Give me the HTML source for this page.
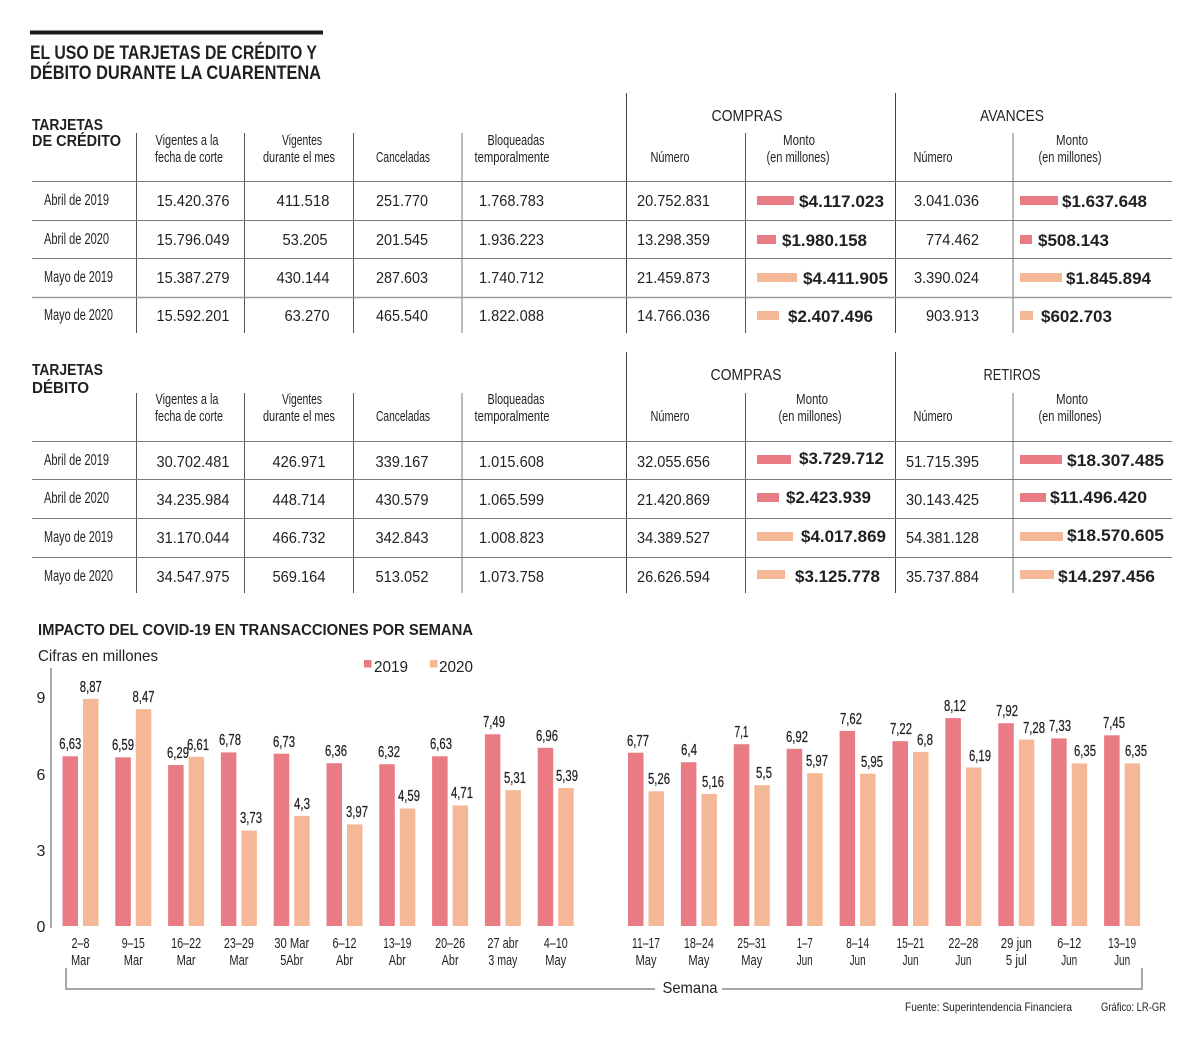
<!DOCTYPE html>
<html><head><meta charset="utf-8"><style>
html,body{margin:0;padding:0;background:#fff;}
svg{display:block;}
text{fill:#231f20;font-family:"Liberation Sans",sans-serif;}
.c{font-family:"Liberation Sans Narrow","Liberation Sans",sans-serif;}
.h{font-size:15px;}
.r{font-size:15.5px;}
.n{font-size:16px;}
.b{font-size:16.5px;font-weight:bold;}
.v{font-size:16px;stroke:#231f20;stroke-width:0.25;}
.x{font-size:15px;}
.m{text-anchor:middle;}
.e{text-anchor:end;}
.p{fill:#e97b84;}
.o{fill:#f5b896;}
</style></head><body>
<svg width="1200" height="1043" viewBox="0 0 1200 1043" xmlns="http://www.w3.org/2000/svg">
<rect width="1200" height="1043" fill="#fff"/>
<!-- Title -->
<rect x="30" y="30.5" width="293" height="4" fill="#1a1a1a"/>
<text x="30" y="59" font-size="19" font-weight="bold" textLength="287" lengthAdjust="spacingAndGlyphs">EL USO DE TARJETAS DE CRÉDITO Y</text>
<text x="30" y="79" font-size="19" font-weight="bold" textLength="291" lengthAdjust="spacingAndGlyphs">DÉBITO DURANTE LA CUARENTENA</text>

<!-- ===== CREDIT TABLE ===== -->
<g stroke="#555" stroke-width="1" fill="none">
<line x1="136.5" y1="133" x2="136.5" y2="333"/>
<line x1="244.5" y1="133" x2="244.5" y2="333"/>
<line x1="353.5" y1="133" x2="353.5" y2="333"/>
<line x1="745.5" y1="133" x2="745.5" y2="333"/>
<line x1="626.5" y1="93" x2="626.5" y2="333" stroke="#444"/>
<line x1="895.5" y1="93" x2="895.5" y2="333" stroke="#444"/>
</g>
<g stroke="#bbb" stroke-width="2">
<line x1="462" y1="133" x2="462" y2="333"/>
<line x1="1013" y1="133" x2="1013" y2="333"/>
</g>
<g stroke="#7a7a7a" stroke-width="1">
<line x1="32" y1="181.5" x2="1172" y2="181.5"/>
<line x1="32" y1="220.5" x2="1172" y2="220.5"/>
<line x1="32" y1="258.5" x2="1172" y2="258.5"/>
<line x1="32" y1="297.5" x2="1172" y2="297.5" stroke="#999" stroke-width="1.5"/>
</g>
<text x="32" y="130" font-size="16" font-weight="bold" textLength="71" lengthAdjust="spacingAndGlyphs">TARJETAS</text>
<text x="32" y="146" font-size="16" font-weight="bold" textLength="89" lengthAdjust="spacingAndGlyphs">DE CRÉDITO</text>
<g class="c h">
<text class="m" x="187" y="145" textLength="63" lengthAdjust="spacingAndGlyphs">Vigentes a la</text>
<text class="m" x="189" y="162" textLength="68" lengthAdjust="spacingAndGlyphs">fecha de corte</text>
<text class="m" x="302" y="145" textLength="40" lengthAdjust="spacingAndGlyphs">Vigentes</text>
<text class="m" x="299" y="162" textLength="72" lengthAdjust="spacingAndGlyphs">durante el mes</text>
<text class="m" x="403" y="162" textLength="54" lengthAdjust="spacingAndGlyphs">Canceladas</text>
<text class="m" x="516" y="145" textLength="57" lengthAdjust="spacingAndGlyphs">Bloqueadas</text>
<text class="m" x="512" y="162" textLength="75" lengthAdjust="spacingAndGlyphs">temporalmente</text>
<text class="m" x="670" y="162" textLength="39" lengthAdjust="spacingAndGlyphs">Número</text>
<text class="m" x="799" y="145" textLength="32" lengthAdjust="spacingAndGlyphs">Monto</text>
<text class="m" x="798" y="162" textLength="63" lengthAdjust="spacingAndGlyphs">(en millones)</text>
<text class="m" x="933" y="162" textLength="39" lengthAdjust="spacingAndGlyphs">Número</text>
<text class="m" x="1072" y="145" textLength="32" lengthAdjust="spacingAndGlyphs">Monto</text>
<text class="m" x="1070" y="162" textLength="63" lengthAdjust="spacingAndGlyphs">(en millones)</text>
</g>
<text class="m" x="747" y="121" font-size="16" textLength="71" lengthAdjust="spacingAndGlyphs">COMPRAS</text>
<text class="m" x="1012" y="121" font-size="16" textLength="64" lengthAdjust="spacingAndGlyphs">AVANCES</text>

<!-- credit rows -->
<g class="c r">
<text x="44" y="205" textLength="65" lengthAdjust="spacingAndGlyphs">Abril de 2019</text>
<text x="44" y="244" textLength="65" lengthAdjust="spacingAndGlyphs">Abril de 2020</text>
<text x="44" y="282" textLength="69" lengthAdjust="spacingAndGlyphs">Mayo de 2019</text>
<text x="44" y="320" textLength="69" lengthAdjust="spacingAndGlyphs">Mayo de 2020</text>
</g>
<g class="n">
<text class="m" x="193" y="206" textLength="73" lengthAdjust="spacingAndGlyphs">15.420.376</text>
<text class="m" x="193" y="245" textLength="73" lengthAdjust="spacingAndGlyphs">15.796.049</text>
<text class="m" x="193" y="283" textLength="73" lengthAdjust="spacingAndGlyphs">15.387.279</text>
<text class="m" x="193" y="321" textLength="73" lengthAdjust="spacingAndGlyphs">15.592.201</text>
<text class="m" x="303" y="206" textLength="53" lengthAdjust="spacingAndGlyphs">411.518</text>
<text class="m" x="305" y="245" textLength="45" lengthAdjust="spacingAndGlyphs">53.205</text>
<text class="m" x="303" y="283" textLength="53" lengthAdjust="spacingAndGlyphs">430.144</text>
<text class="m" x="307" y="321" textLength="45" lengthAdjust="spacingAndGlyphs">63.270</text>
<text class="m" x="402" y="206" textLength="52" lengthAdjust="spacingAndGlyphs">251.770</text>
<text class="m" x="402" y="245" textLength="52" lengthAdjust="spacingAndGlyphs">201.545</text>
<text class="m" x="402" y="283" textLength="52" lengthAdjust="spacingAndGlyphs">287.603</text>
<text class="m" x="402" y="321" textLength="52" lengthAdjust="spacingAndGlyphs">465.540</text>
<text x="479" y="206" textLength="65" lengthAdjust="spacingAndGlyphs">1.768.783</text>
<text x="479" y="245" textLength="65" lengthAdjust="spacingAndGlyphs">1.936.223</text>
<text x="479" y="283" textLength="65" lengthAdjust="spacingAndGlyphs">1.740.712</text>
<text x="479" y="321" textLength="65" lengthAdjust="spacingAndGlyphs">1.822.088</text>
<text x="637" y="206" textLength="73" lengthAdjust="spacingAndGlyphs">20.752.831</text>
<text x="637" y="245" textLength="73" lengthAdjust="spacingAndGlyphs">13.298.359</text>
<text x="637" y="283" textLength="73" lengthAdjust="spacingAndGlyphs">21.459.873</text>
<text x="637" y="321" textLength="73" lengthAdjust="spacingAndGlyphs">14.766.036</text>
<text class="e" x="979" y="206" textLength="65" lengthAdjust="spacingAndGlyphs">3.041.036</text>
<text class="e" x="979" y="245" textLength="53" lengthAdjust="spacingAndGlyphs">774.462</text>
<text class="e" x="979" y="283" textLength="65" lengthAdjust="spacingAndGlyphs">3.390.024</text>
<text class="e" x="979" y="321" textLength="53" lengthAdjust="spacingAndGlyphs">903.913</text>
</g>
<rect class="p" x="757" y="196" width="37" height="9"/>
<rect class="p" x="757" y="235" width="19" height="9"/>
<rect class="o" x="757" y="273" width="40" height="9"/>
<rect class="o" x="757" y="311" width="22" height="9"/>
<rect class="p" x="1020" y="196" width="38" height="9"/>
<rect class="p" x="1020" y="235" width="12" height="9"/>
<rect class="o" x="1020" y="273" width="42" height="9"/>
<rect class="o" x="1020" y="311" width="13" height="9"/>
<g class="b">
<text x="799" y="207" textLength="85" lengthAdjust="spacingAndGlyphs">$4.117.023</text>
<text x="782" y="246" textLength="85" lengthAdjust="spacingAndGlyphs">$1.980.158</text>
<text x="803" y="284" textLength="85" lengthAdjust="spacingAndGlyphs">$4.411.905</text>
<text x="788" y="322" textLength="85" lengthAdjust="spacingAndGlyphs">$2.407.496</text>
<text x="1062" y="207" textLength="85" lengthAdjust="spacingAndGlyphs">$1.637.648</text>
<text x="1038" y="246" textLength="71" lengthAdjust="spacingAndGlyphs">$508.143</text>
<text x="1066" y="284" textLength="85" lengthAdjust="spacingAndGlyphs">$1.845.894</text>
<text x="1041" y="322" textLength="71" lengthAdjust="spacingAndGlyphs">$602.703</text>
</g>

<!-- ===== DEBIT TABLE ===== -->
<g stroke="#555" stroke-width="1" fill="none">
<line x1="136.5" y1="393" x2="136.5" y2="593"/>
<line x1="244.5" y1="393" x2="244.5" y2="593"/>
<line x1="353.5" y1="393" x2="353.5" y2="593"/>
<line x1="745.5" y1="393" x2="745.5" y2="593"/>
<line x1="626.5" y1="352" x2="626.5" y2="593" stroke="#444"/>
<line x1="895.5" y1="352" x2="895.5" y2="593" stroke="#444"/>
</g>
<g stroke="#bbb" stroke-width="2">
<line x1="462" y1="393" x2="462" y2="593"/>
<line x1="1013" y1="393" x2="1013" y2="593"/>
</g>
<g stroke="#7a7a7a" stroke-width="1">
<line x1="32" y1="441.5" x2="1172" y2="441.5"/>
<line x1="32" y1="479.5" x2="1172" y2="479.5"/>
<line x1="32" y1="518.5" x2="1172" y2="518.5"/>
<line x1="32" y1="557.5" x2="1172" y2="557.5"/>
</g>
<text x="32" y="375" font-size="16" font-weight="bold" textLength="71" lengthAdjust="spacingAndGlyphs">TARJETAS</text>
<text x="32" y="393" font-size="16" font-weight="bold" textLength="57" lengthAdjust="spacingAndGlyphs">DÉBITO</text>
<g class="c h">
<text class="m" x="187" y="404" textLength="63" lengthAdjust="spacingAndGlyphs">Vigentes a la</text>
<text class="m" x="189" y="421" textLength="68" lengthAdjust="spacingAndGlyphs">fecha de corte</text>
<text class="m" x="302" y="404" textLength="40" lengthAdjust="spacingAndGlyphs">Vigentes</text>
<text class="m" x="299" y="421" textLength="72" lengthAdjust="spacingAndGlyphs">durante el mes</text>
<text class="m" x="403" y="421" textLength="54" lengthAdjust="spacingAndGlyphs">Canceladas</text>
<text class="m" x="516" y="404" textLength="57" lengthAdjust="spacingAndGlyphs">Bloqueadas</text>
<text class="m" x="512" y="421" textLength="75" lengthAdjust="spacingAndGlyphs">temporalmente</text>
<text class="m" x="670" y="421" textLength="39" lengthAdjust="spacingAndGlyphs">Número</text>
<text class="m" x="812" y="404" textLength="32" lengthAdjust="spacingAndGlyphs">Monto</text>
<text class="m" x="810" y="421" textLength="63" lengthAdjust="spacingAndGlyphs">(en millones)</text>
<text class="m" x="933" y="421" textLength="39" lengthAdjust="spacingAndGlyphs">Número</text>
<text class="m" x="1072" y="404" textLength="32" lengthAdjust="spacingAndGlyphs">Monto</text>
<text class="m" x="1070" y="421" textLength="63" lengthAdjust="spacingAndGlyphs">(en millones)</text>
</g>
<text class="m" x="746" y="380" font-size="16" textLength="71" lengthAdjust="spacingAndGlyphs">COMPRAS</text>
<text class="m" x="1012" y="380" font-size="16" textLength="57" lengthAdjust="spacingAndGlyphs">RETIROS</text>

<g class="c r">
<text x="44" y="465" textLength="65" lengthAdjust="spacingAndGlyphs">Abril de 2019</text>
<text x="44" y="503" textLength="65" lengthAdjust="spacingAndGlyphs">Abril de 2020</text>
<text x="44" y="542" textLength="69" lengthAdjust="spacingAndGlyphs">Mayo de 2019</text>
<text x="44" y="581" textLength="69" lengthAdjust="spacingAndGlyphs">Mayo de 2020</text>
</g>
<g class="n">
<text class="m" x="193" y="467" textLength="73" lengthAdjust="spacingAndGlyphs">30.702.481</text>
<text class="m" x="193" y="505" textLength="73" lengthAdjust="spacingAndGlyphs">34.235.984</text>
<text class="m" x="193" y="543" textLength="73" lengthAdjust="spacingAndGlyphs">31.170.044</text>
<text class="m" x="193" y="582" textLength="73" lengthAdjust="spacingAndGlyphs">34.547.975</text>
<text class="m" x="299" y="467" textLength="53" lengthAdjust="spacingAndGlyphs">426.971</text>
<text class="m" x="299" y="505" textLength="53" lengthAdjust="spacingAndGlyphs">448.714</text>
<text class="m" x="299" y="543" textLength="53" lengthAdjust="spacingAndGlyphs">466.732</text>
<text class="m" x="299" y="582" textLength="53" lengthAdjust="spacingAndGlyphs">569.164</text>
<text class="m" x="402" y="467" textLength="53" lengthAdjust="spacingAndGlyphs">339.167</text>
<text class="m" x="402" y="505" textLength="53" lengthAdjust="spacingAndGlyphs">430.579</text>
<text class="m" x="402" y="543" textLength="53" lengthAdjust="spacingAndGlyphs">342.843</text>
<text class="m" x="402" y="582" textLength="53" lengthAdjust="spacingAndGlyphs">513.052</text>
<text x="479" y="467" textLength="65" lengthAdjust="spacingAndGlyphs">1.015.608</text>
<text x="479" y="505" textLength="65" lengthAdjust="spacingAndGlyphs">1.065.599</text>
<text x="479" y="543" textLength="65" lengthAdjust="spacingAndGlyphs">1.008.823</text>
<text x="479" y="582" textLength="65" lengthAdjust="spacingAndGlyphs">1.073.758</text>
<text x="637" y="467" textLength="73" lengthAdjust="spacingAndGlyphs">32.055.656</text>
<text x="637" y="505" textLength="73" lengthAdjust="spacingAndGlyphs">21.420.869</text>
<text x="637" y="543" textLength="73" lengthAdjust="spacingAndGlyphs">34.389.527</text>
<text x="637" y="582" textLength="73" lengthAdjust="spacingAndGlyphs">26.626.594</text>
<text class="e" x="979" y="467" textLength="73" lengthAdjust="spacingAndGlyphs">51.715.395</text>
<text class="e" x="979" y="505" textLength="73" lengthAdjust="spacingAndGlyphs">30.143.425</text>
<text class="e" x="979" y="543" textLength="73" lengthAdjust="spacingAndGlyphs">54.381.128</text>
<text class="e" x="979" y="582" textLength="73" lengthAdjust="spacingAndGlyphs">35.737.884</text>
</g>
<rect class="p" x="757" y="455" width="34" height="9"/>
<rect class="p" x="757" y="493" width="22" height="9"/>
<rect class="o" x="757" y="532" width="36" height="9"/>
<rect class="o" x="757" y="570" width="28" height="9"/>
<rect class="p" x="1020" y="455" width="42" height="9"/>
<rect class="p" x="1020" y="493" width="26" height="9"/>
<rect class="o" x="1020" y="532" width="43" height="9"/>
<rect class="o" x="1020" y="570" width="34" height="9"/>
<g class="b">
<text x="799" y="464" textLength="85" lengthAdjust="spacingAndGlyphs">$3.729.712</text>
<text x="786" y="503" textLength="85" lengthAdjust="spacingAndGlyphs">$2.423.939</text>
<text x="801" y="542" textLength="85" lengthAdjust="spacingAndGlyphs">$4.017.869</text>
<text x="795" y="582" textLength="85" lengthAdjust="spacingAndGlyphs">$3.125.778</text>
<text x="1067" y="466" textLength="97" lengthAdjust="spacingAndGlyphs">$18.307.485</text>
<text x="1050" y="503" textLength="97" lengthAdjust="spacingAndGlyphs">$11.496.420</text>
<text x="1067" y="541" textLength="97" lengthAdjust="spacingAndGlyphs">$18.570.605</text>
<text x="1058" y="582" textLength="97" lengthAdjust="spacingAndGlyphs">$14.297.456</text>
</g>

<!-- ===== CHART ===== -->
<text x="38" y="635" font-size="16" font-weight="bold" textLength="435" lengthAdjust="spacingAndGlyphs">IMPACTO DEL COVID-19 EN TRANSACCIONES POR SEMANA</text>
<text x="38" y="661" font-size="16" textLength="120" lengthAdjust="spacingAndGlyphs">Cifras en millones</text>
<rect class="p" x="364" y="660" width="7.5" height="7.5"/>
<text x="374" y="672" font-size="16" textLength="34" lengthAdjust="spacingAndGlyphs">2019</text>
<rect class="o" x="430" y="660" width="7.5" height="7.5"/>
<text x="439" y="672" font-size="16" textLength="34" lengthAdjust="spacingAndGlyphs">2020</text>

<line x1="51" y1="668" x2="51" y2="928" stroke="#aaa" stroke-width="2"/>
<g font-size="16">
<text class="m" x="41" y="703">9</text>
<text class="m" x="41" y="780">6</text>
<text class="m" x="41" y="856">3</text>
<text class="m" x="41" y="932">0</text>
</g>

<!-- bars left -->
<g>
<rect class="p" x="62.5" y="756.3" width="15.5" height="169.7"/><rect class="o" x="83" y="698.9" width="15.5" height="227.1"/>
<rect class="p" x="115.3" y="757.3" width="15.5" height="168.7"/><rect class="o" x="135.8" y="709.2" width="15.5" height="216.8"/>
<rect class="p" x="168.1" y="765" width="15.5" height="161"/><rect class="o" x="188.6" y="756.8" width="15.5" height="169.2"/>
<rect class="p" x="220.9" y="752.4" width="15.5" height="173.6"/><rect class="o" x="241.4" y="830.5" width="15.5" height="95.5"/>
<rect class="p" x="273.7" y="753.7" width="15.5" height="172.3"/><rect class="o" x="294.2" y="815.9" width="15.5" height="110.1"/>
<rect class="p" x="326.5" y="763.2" width="15.5" height="162.8"/><rect class="o" x="347" y="824.4" width="15.5" height="101.6"/>
<rect class="p" x="379.3" y="764.2" width="15.5" height="161.8"/><rect class="o" x="399.8" y="808.5" width="15.5" height="117.5"/>
<rect class="p" x="432.1" y="756.3" width="15.5" height="169.7"/><rect class="o" x="452.6" y="805.4" width="15.5" height="120.6"/>
<rect class="p" x="484.9" y="734.3" width="15.5" height="191.7"/><rect class="o" x="505.4" y="790.1" width="15.5" height="135.9"/>
<rect class="p" x="537.7" y="747.8" width="15.5" height="178.2"/><rect class="o" x="558.2" y="788" width="15.5" height="138"/>
</g>
<!-- bars right -->
<g>
<rect class="p" x="628" y="752.7" width="15.5" height="173.3"/><rect class="o" x="648.5" y="791.3" width="15.5" height="134.7"/>
<rect class="p" x="680.9" y="762.2" width="15.5" height="163.8"/><rect class="o" x="701.4" y="793.9" width="15.5" height="132.1"/>
<rect class="p" x="733.8" y="744.2" width="15.5" height="181.8"/><rect class="o" x="754.3" y="785.2" width="15.5" height="140.8"/>
<rect class="p" x="786.7" y="748.8" width="15.5" height="177.2"/><rect class="o" x="807.2" y="773.2" width="15.5" height="152.8"/>
<rect class="p" x="839.6" y="730.9" width="15.5" height="195.1"/><rect class="o" x="860.1" y="773.7" width="15.5" height="152.3"/>
<rect class="p" x="892.5" y="741.2" width="15.5" height="184.8"/><rect class="o" x="913" y="751.9" width="15.5" height="174.1"/>
<rect class="p" x="945.4" y="718.1" width="15.5" height="207.9"/><rect class="o" x="965.9" y="767.5" width="15.5" height="158.5"/>
<rect class="p" x="998.3" y="723.2" width="15.5" height="202.8"/><rect class="o" x="1018.8" y="739.6" width="15.5" height="186.4"/>
<rect class="p" x="1051.2" y="738.4" width="15.5" height="187.6"/><rect class="o" x="1071.7" y="763.4" width="15.5" height="162.6"/>
<rect class="p" x="1104.1" y="735.3" width="15.5" height="190.7"/><rect class="o" x="1124.6" y="763.4" width="15.5" height="162.6"/>
</g>

<!-- value labels -->
<g class="c v m">
<text x="70.3" y="749" textLength="22" lengthAdjust="spacingAndGlyphs">6,63</text>
<text x="90.8" y="692" textLength="22" lengthAdjust="spacingAndGlyphs">8,87</text>
<text x="123" y="750" textLength="22" lengthAdjust="spacingAndGlyphs">6,59</text>
<text x="143.5" y="702" textLength="22" lengthAdjust="spacingAndGlyphs">8,47</text>
<text x="178" y="758" textLength="22" lengthAdjust="spacingAndGlyphs">6,29</text>
<text x="198" y="750" textLength="22" lengthAdjust="spacingAndGlyphs">6,61</text>
<text x="230" y="745" textLength="22" lengthAdjust="spacingAndGlyphs">6,78</text>
<text x="251" y="823" textLength="22" lengthAdjust="spacingAndGlyphs">3,73</text>
<text x="284" y="747" textLength="22" lengthAdjust="spacingAndGlyphs">6,73</text>
<text x="302" y="809" textLength="16" lengthAdjust="spacingAndGlyphs">4,3</text>
<text x="336" y="756" textLength="22" lengthAdjust="spacingAndGlyphs">6,36</text>
<text x="357" y="817" textLength="22" lengthAdjust="spacingAndGlyphs">3,97</text>
<text x="389" y="757" textLength="22" lengthAdjust="spacingAndGlyphs">6,32</text>
<text x="409" y="801" textLength="22" lengthAdjust="spacingAndGlyphs">4,59</text>
<text x="441" y="749" textLength="22" lengthAdjust="spacingAndGlyphs">6,63</text>
<text x="462" y="798" textLength="22" lengthAdjust="spacingAndGlyphs">4,71</text>
<text x="494" y="727" textLength="22" lengthAdjust="spacingAndGlyphs">7,49</text>
<text x="515" y="783" textLength="22" lengthAdjust="spacingAndGlyphs">5,31</text>
<text x="547" y="741" textLength="22" lengthAdjust="spacingAndGlyphs">6,96</text>
<text x="567" y="781" textLength="22" lengthAdjust="spacingAndGlyphs">5,39</text>

<text x="638" y="746" textLength="22" lengthAdjust="spacingAndGlyphs">6,77</text>
<text x="659" y="784" textLength="22" lengthAdjust="spacingAndGlyphs">5,26</text>
<text x="689" y="755" textLength="16" lengthAdjust="spacingAndGlyphs">6,4</text>
<text x="713" y="787" textLength="22" lengthAdjust="spacingAndGlyphs">5,16</text>
<text x="741.5" y="737" textLength="14" lengthAdjust="spacingAndGlyphs">7,1</text>
<text x="764" y="778" textLength="16" lengthAdjust="spacingAndGlyphs">5,5</text>
<text x="797" y="742" textLength="22" lengthAdjust="spacingAndGlyphs">6,92</text>
<text x="817" y="766" textLength="22" lengthAdjust="spacingAndGlyphs">5,97</text>
<text x="851" y="724" textLength="22" lengthAdjust="spacingAndGlyphs">7,62</text>
<text x="872" y="767" textLength="22" lengthAdjust="spacingAndGlyphs">5,95</text>
<text x="901" y="734" textLength="22" lengthAdjust="spacingAndGlyphs">7,22</text>
<text x="925" y="745" textLength="16" lengthAdjust="spacingAndGlyphs">6,8</text>
<text x="955" y="711" textLength="22" lengthAdjust="spacingAndGlyphs">8,12</text>
<text x="980" y="761" textLength="22" lengthAdjust="spacingAndGlyphs">6,19</text>
<text x="1007" y="716" textLength="22" lengthAdjust="spacingAndGlyphs">7,92</text>
<text x="1034" y="733" textLength="22" lengthAdjust="spacingAndGlyphs">7,28</text>
<text x="1060" y="731" textLength="22" lengthAdjust="spacingAndGlyphs">7,33</text>
<text x="1085" y="756" textLength="22" lengthAdjust="spacingAndGlyphs">6,35</text>
<text x="1114" y="728" textLength="22" lengthAdjust="spacingAndGlyphs">7,45</text>
<text x="1136" y="756" textLength="22" lengthAdjust="spacingAndGlyphs">6,35</text>
</g>

<!-- x labels -->
<g class="c x m">
<text x="80.5" y="948" textLength="18" lengthAdjust="spacingAndGlyphs">2–8</text><text x="80.5" y="965" textLength="19" lengthAdjust="spacingAndGlyphs">Mar</text>
<text x="133.3" y="948" textLength="23" lengthAdjust="spacingAndGlyphs">9–15</text><text x="133.3" y="965" textLength="19" lengthAdjust="spacingAndGlyphs">Mar</text>
<text x="186.1" y="948" textLength="30" lengthAdjust="spacingAndGlyphs">16–22</text><text x="186.1" y="965" textLength="19" lengthAdjust="spacingAndGlyphs">Mar</text>
<text x="238.9" y="948" textLength="30" lengthAdjust="spacingAndGlyphs">23–29</text><text x="238.9" y="965" textLength="19" lengthAdjust="spacingAndGlyphs">Mar</text>
<text x="291.7" y="948" textLength="35" lengthAdjust="spacingAndGlyphs">30 Mar</text><text x="291.7" y="965" textLength="23" lengthAdjust="spacingAndGlyphs">5Abr</text>
<text x="344.5" y="948" textLength="24" lengthAdjust="spacingAndGlyphs">6–12</text><text x="344.5" y="965" textLength="17" lengthAdjust="spacingAndGlyphs">Abr</text>
<text x="397.3" y="948" textLength="28" lengthAdjust="spacingAndGlyphs">13–19</text><text x="397.3" y="965" textLength="17" lengthAdjust="spacingAndGlyphs">Abr</text>
<text x="450.1" y="948" textLength="30" lengthAdjust="spacingAndGlyphs">20–26</text><text x="450.1" y="965" textLength="17" lengthAdjust="spacingAndGlyphs">Abr</text>
<text x="502.9" y="948" textLength="31" lengthAdjust="spacingAndGlyphs">27 abr</text><text x="502.9" y="965" textLength="29" lengthAdjust="spacingAndGlyphs">3 may</text>
<text x="555.7" y="948" textLength="24" lengthAdjust="spacingAndGlyphs">4–10</text><text x="555.7" y="965" textLength="21" lengthAdjust="spacingAndGlyphs">May</text>

<text x="646" y="948" textLength="28" lengthAdjust="spacingAndGlyphs">11–17</text><text x="646" y="965" textLength="21" lengthAdjust="spacingAndGlyphs">May</text>
<text x="698.9" y="948" textLength="30" lengthAdjust="spacingAndGlyphs">18–24</text><text x="698.9" y="965" textLength="21" lengthAdjust="spacingAndGlyphs">May</text>
<text x="751.8" y="948" textLength="29" lengthAdjust="spacingAndGlyphs">25–31</text><text x="751.8" y="965" textLength="21" lengthAdjust="spacingAndGlyphs">May</text>
<text x="804.7" y="948" textLength="16" lengthAdjust="spacingAndGlyphs">1–7</text><text x="804.7" y="965" textLength="16" lengthAdjust="spacingAndGlyphs">Jun</text>
<text x="857.6" y="948" textLength="23" lengthAdjust="spacingAndGlyphs">8–14</text><text x="857.6" y="965" textLength="16" lengthAdjust="spacingAndGlyphs">Jun</text>
<text x="910.5" y="948" textLength="28" lengthAdjust="spacingAndGlyphs">15–21</text><text x="910.5" y="965" textLength="16" lengthAdjust="spacingAndGlyphs">Jun</text>
<text x="963.4" y="948" textLength="30" lengthAdjust="spacingAndGlyphs">22–28</text><text x="963.4" y="965" textLength="16" lengthAdjust="spacingAndGlyphs">Jun</text>
<text x="1016.3" y="948" textLength="31" lengthAdjust="spacingAndGlyphs">29 jun</text><text x="1016.3" y="965" textLength="21" lengthAdjust="spacingAndGlyphs">5 jul</text>
<text x="1069.2" y="948" textLength="24" lengthAdjust="spacingAndGlyphs">6–12</text><text x="1069.2" y="965" textLength="16" lengthAdjust="spacingAndGlyphs">Jun</text>
<text x="1122.1" y="948" textLength="28" lengthAdjust="spacingAndGlyphs">13–19</text><text x="1122.1" y="965" textLength="16" lengthAdjust="spacingAndGlyphs">Jun</text>
</g>

<!-- bracket -->
<path d="M66,968 V989 H655 M722,989 H1142 V968" fill="none" stroke="#888" stroke-width="1.5"/>
<text class="m" x="690" y="993" font-size="16" textLength="55" lengthAdjust="spacingAndGlyphs">Semana</text>

<!-- footer -->
<text class="c" x="905" y="1011" font-size="12" textLength="167" lengthAdjust="spacingAndGlyphs">Fuente: Superintendencia Financiera</text>
<text class="c" x="1101" y="1011" font-size="12" textLength="65" lengthAdjust="spacingAndGlyphs">Gráfico: LR-GR</text>
</svg>
</body></html>
